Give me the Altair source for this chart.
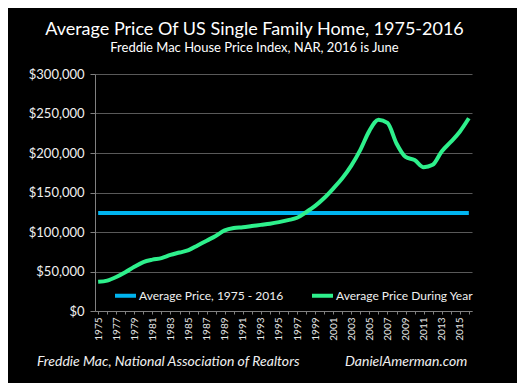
import altair as alt
import pandas as pd

# ---- data ----
years = list(range(1975, 2017))
avg_price_during_year = [
    37000, 38500, 43000, 49000, 56000, 62000, 65000, 67000, 71000, 74000,
    77000, 83000, 89000, 95000, 102000, 105000, 106000, 107500, 109000, 110500,
    112500, 115000, 118000, 125000, 133000, 143000, 155000, 168000, 184000, 204000,
    228000, 242000, 238000, 212000, 195000, 191000, 182000, 185000, 202000, 214000,
    227000, 244000,
]
avg_price_1975_2016 = 124000
series_names = ["Average Price, 1975 - 2016", "Average Price During Year"]
series_colors = ["#00b4f0", "#2ef08c"]
y_ticks = [0, 50000, 100000, 150000, 200000, 250000, 300000]
title_text = "Average Price Of US Single Family Home, 1975-2016"
subtitle_text = "Freddie Mac House Price Index, NAR, 2016 is June"
footer_left = "Freddie Mac, National Association of Realtors"
footer_right = "DanielAmerman.com"

rows = []
for y in years:
    rows.append({"year": y, "series": series_names[0], "price": avg_price_1975_2016})
for y, p in zip(years, avg_price_during_year):
    rows.append({"year": y, "series": series_names[1], "price": p})
df = pd.DataFrame(rows)

FONT = "Lato"

x_enc = alt.X(
    "year:O",
    scale=alt.Scale(type="point", padding=0.35),
    axis=alt.Axis(
        title=None,
        values=years,
        labelExpr="datum.value % 2 == 1 ? datum.value : ''",
        labelAngle=270,
        labelFontSize=10,
        labelColor="#e8e8e8",
        labelFont=FONT,
        labelPadding=3,
        tickSize=3,
        tickColor="#808080",
        domainColor="#808080",
        grid=False,
    ),
)
y_enc = alt.Y(
    "price:Q",
    scale=alt.Scale(domain=[0, 300000]),
    axis=alt.Axis(
        title=None,
        values=y_ticks,
        format="$,.0f",
        labelFontSize=13,
        labelColor="#f0f0f0",
        labelFont=FONT,
        labelPadding=6,
        tickSize=5,
        tickColor="#808080",
        domainColor="#808080",
        gridColor="#595959",
        gridWidth=1,
    ),
)

lines = alt.Chart(df).mark_line(strokeWidth=4, interpolate="monotone").encode(
    x=x_enc,
    y=y_enc,
    color=alt.Color(
        "series:N",
        scale=alt.Scale(domain=series_names, range=series_colors),
        legend=alt.Legend(
            title=None,
            orient="none",
            legendX=18,
            legendY=209,
            direction="horizontal",
            symbolType="stroke",
            symbolStrokeWidth=4,
            symbolSize=440,
            labelFontSize=12,
            labelColor="#f0f0f0",
            labelFont=FONT,
            labelOffset=1,
            columnPadding=20,
        ),
    ),
    detail="series:N",
)

foot_l = alt.Chart(pd.DataFrame({"t": [footer_left]})).mark_text(
    align="left", baseline="alphabetic", fontSize=14, fontStyle="italic",
    color="#f0f0f0", font=FONT,
).encode(text="t:N", x=alt.value(-58), y=alt.value(292))

foot_r = alt.Chart(pd.DataFrame({"t": [footer_right]})).mark_text(
    align="left", baseline="alphabetic", fontSize=14, fontStyle="italic",
    color="#f0f0f0", font=FONT,
).encode(text="t:N", x=alt.value(250), y=alt.value(292))

chart = alt.layer(lines, foot_l, foot_r).properties(
    width=377,
    height=237,
    background="black",
    padding={"left": 87, "top": 66, "right": 45, "bottom": 72},
    autosize=alt.AutoSizeParams(type="none"),
    title=alt.TitleParams(
        text=title_text,
        subtitle=subtitle_text,
        anchor="middle",
        frame="group",
        dx=-29,
        color="white",
        subtitleColor="white",
        font=FONT,
        subtitleFont=FONT,
        fontSize=18,
        fontWeight="normal",
        subtitleFontSize=13,
        subtitlePadding=3,
        offset=13,
    ),
).configure_view(stroke=None)

chart.save("out.html", embed_options={"renderer": "svg", "actions": False})
